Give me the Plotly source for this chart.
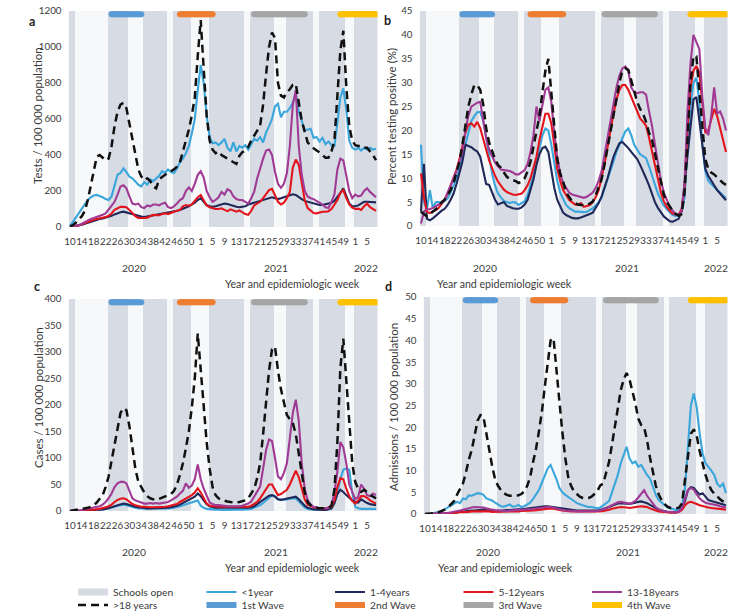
import plotly.graph_objects as go

# ---------------- categories ----------------
weeks_2020 = list(range(10, 54))
weeks_2021 = list(range(1, 53))
weeks_2022 = list(range(1, 9))
week_numbers = weeks_2020 + weeks_2021 + weeks_2022
year_of_week = ["2020"] * len(weeks_2020) + ["2021"] * len(weeks_2021) + ["2022"] * len(weeks_2022)
years = ["2020", "2021", "2022"]

age_groups = ["<1year", "1-4years", "5-12years", "13-18years", ">18 years"]

schools_open = [1, 1, 0, 0, 0, 0, 0, 0, 0, 0, 0, 0, 0, 1, 1, 1, 1, 1, 1, 1, 0, 0, 0, 0, 0,
                1, 1, 1, 1, 1, 1, 1, 1, 0, 0, 1, 1, 1, 1, 1, 1, 0, 0, 0, 0, 0, 0,
                1, 1, 1, 1, 1, 1, 1, 1, 1, 1, 1, 1, 0, 0, 1, 1, 1, 1, 1, 1, 1, 1,
                0, 0, 0, 0, 1, 1, 1, 1, 1, 1, 1, 1, 1, 0, 0, 1, 1, 1, 1, 1, 1, 1, 1, 1,
                0, 0, 0, 1, 1, 1, 1, 1, 1, 1, 1]

wave_names = ["1st Wave", "2nd Wave", "3rd Wave", "4th Wave"]
wave_start = [("2020", 24), ("2020", 47), ("2021", 19), ("2021", 48)]
wave_end = [("2020", 34), ("2021", 5), ("2021", 36), ("2022", 8)]

# ---------------- panel a: tests / 100 000 ----------------
tests_lt1 = [5, 30, 50, 80, 100, 130, 150, 165, 175, 178, 172, 165, 155, 150, 170, 230, 290, 300, 326, 305,
             280, 270, 250, 235, 225, 250, 235, 265, 255, 270, 285, 310, 300, 320, 305, 300, 325, 360, 380, 410,
             450, 520, 600, 760, 900, 800, 620, 500, 465, 470, 455, 470, 490, 440, 420, 470, 420, 450, 440, 455,
             430, 460, 490, 480, 500, 470, 525, 560, 600, 670, 685, 610, 640, 640, 660, 690, 740, 640, 590, 540,
             540, 545, 495, 500, 475, 495, 460, 475, 455, 450, 580, 720, 770, 650, 480, 440, 430, 440, 425, 440,
             430, 440, 430, 435]
tests_1_4 = [0, 2, 4, 8, 12, 18, 24, 30, 35, 40, 44, 48, 52, 56, 62, 70, 78, 82, 85, 80,
             76, 70, 65, 62, 58, 55, 58, 60, 62, 66, 70, 75, 78, 80, 82, 86, 90, 95, 100, 108,
             115, 125, 135, 150, 160, 140, 122, 115, 112, 115, 120, 125, 130, 128, 122, 115, 112, 110, 112, 115,
             125, 130, 135, 140, 145, 150, 158, 162, 165, 160, 155, 160, 165, 168, 175, 182, 178, 165, 155, 145,
             140, 135, 130, 125, 122, 122, 125, 128, 135, 145, 165, 190, 215, 170, 130, 115, 115, 120, 130, 140,
             140, 138, 135, 137]
tests_5_12 = [0, 2, 5, 10, 15, 22, 28, 35, 40, 45, 48, 50, 55, 62, 75, 95, 105, 112, 112, 110,
              95, 75, 60, 50, 48, 50, 52, 60, 68, 66, 65, 72, 76, 72, 80, 85, 90, 95, 115, 122,
              118, 125, 145, 165, 178, 150, 120, 110, 104, 100, 100, 104, 95, 88, 98, 90, 85, 92, 80, 72,
              68, 90, 120, 132, 140, 160, 180, 205, 212, 175, 140, 125, 135, 160, 195, 330, 375, 345, 250, 150,
              105, 90, 78, 76, 82, 85, 85, 88, 100, 125, 150, 190, 205, 160, 125, 108, 100, 102, 95, 115,
              130, 110, 100, 90]
tests_13_18 = [0, 2, 5, 10, 18, 28, 38, 45, 50, 55, 62, 68, 75, 95, 115, 140, 180, 225, 232, 215,
               170, 130, 125, 130, 110, 105, 120, 115, 125, 125, 120, 130, 135, 110, 105, 115, 130, 150, 160, 200,
               220, 200, 240, 290, 310, 275, 200, 165, 140, 150, 165, 195, 180, 210, 200, 170, 155, 150, 150, 140,
               130, 160, 196, 270, 330, 380, 425, 430, 400, 307, 240, 218, 240, 300, 450, 680, 760, 450, 290, 200,
               170, 160, 155, 145, 135, 125, 110, 105, 140, 180, 320, 380, 370, 290, 200, 160, 180, 170, 175, 200,
               215, 195, 180, 165]
tests_gt18 = [5, 10, 25, 40, 60, 90, 150, 230, 320, 390, 400, 385, 370, 380, 450, 560, 640, 680, 690, 660,
              580, 480, 400, 320, 280, 260, 270, 255, 225, 215, 265, 280, 290, 300, 310, 320, 335, 360, 420, 480,
              540, 620, 720, 950, 1150, 880, 620, 480, 430, 410, 420, 400, 390, 380, 370, 360, 350, 395, 415, 425,
              445, 480, 505, 535, 565, 680, 850, 1000, 1080, 1050, 800, 730, 720, 750, 765, 790, 795, 680, 590, 530,
              470, 450, 435, 425, 415, 400, 385, 385, 420, 480, 720, 980, 1090, 780, 560, 480, 455, 450, 450, 440,
              440, 420, 400, 372]

# ---------------- panel b: percent positive ----------------
pos_lt1 = [17, 5, 3.5, 7.5, 3.7, 5, 5, 4.8, 5.2, 5.8, 7, 8.5, 10, 12, 14.5, 17.5, 20, 22, 23, 23.8,
           23.9, 22, 18.5, 14.2, 11, 8.5, 6.8, 6, 5.2, 5, 4.8, 5, 4.9, 4.4, 4.8, 5.2, 6.5, 8.5, 10.5, 13.5,
           16.5, 19, 20.4, 20, 17, 13, 9.5, 7, 5.5, 4.4, 3.8, 3.4, 3, 3, 2.9, 2.9, 3, 3.3, 3.7, 4.3,
           5, 6, 7.8, 9.5, 11.5, 13.5, 15.5, 17, 18.3, 19.8, 20.4, 19, 17, 16, 15, 14.6, 14.2, 12.5, 10.5, 8.5,
           6.8, 5.5, 4.3, 3.5, 2.8, 2.3, 2.1, 2.1, 3, 6, 16, 25, 30, 31, 26, 17, 11.5, 9.5, 8.8, 8.2,
           7.6, 6.8, 6.2, 5.8]
pos_1_4 = [3, 13, 1.5, 1.2, 1.6, 2.2, 2.8, 3.2, 3.6, 4.4, 5.5, 6.8, 8.8, 11, 13.5, 17, 16.8, 16.5, 16, 15.6,
           14.5, 11.5, 8.8, 8.6, 7.2, 5.5, 4.5, 4.8, 5, 4.2, 3.9, 3.7, 3.6, 3.6, 3.9, 4.5, 5.5, 7.5, 9.8, 12.8,
           15, 16.3, 16.6, 15.5, 12, 8, 5.5, 4, 2.8, 2.3, 2, 1.7, 1.6, 1.6, 1.8, 2, 2.2, 2.5, 2.8, 3.8,
           4.8, 6.2, 8, 10, 12.3, 14.5, 16, 17.3, 17.6, 17, 16.3, 15.5, 14.8, 14, 12.8, 11.5, 10, 8.5, 6.8, 5,
           3.8, 2.8, 2, 1.5, 1, 0.9, 1.2, 1.5, 3, 9, 16, 22, 26.5, 27, 22, 16, 12, 10.5, 9.5, 8.5,
           7.5, 6.8, 6, 5.4]
pos_5_12 = [11, 6, 3, 2.7, 3, 3.3, 3.8, 4.6, 5.5, 6.8, 8.5, 10, 11.8, 14, 16.8, 19.5, 21.2, 21.5, 20.8, 21.8,
            20.5, 18.5, 16, 13.8, 12, 10.5, 9.3, 8.5, 7.6, 7.1, 6.8, 6.6, 6.5, 6.6, 6.8, 7.5, 8.5, 10, 12, 14.5,
            18, 21, 23.5, 23.5, 21.5, 17, 12, 9.5, 7.5, 6.5, 5.5, 5, 4.5, 4.4, 4.8, 4, 4.2, 4.4, 5, 6,
            7.5, 10, 13, 16.5, 20.5, 23.5, 26.5, 28.5, 29.5, 29.5, 28.5, 27, 25.5, 24, 22.5, 21.8, 21, 18.5, 15.5, 12.5,
            9.5, 7, 5.2, 4, 3.2, 2.6, 2.4, 2.4, 3.5, 8, 20, 29, 32.5, 33.5, 32, 25, 19.5, 20, 22, 24.5,
            23, 20.5, 18, 15.5]
pos_13_18 = [0.5, 3, 3.5, 3.5, 3.8, 4.2, 4.5, 4.8, 5.5, 7, 8.5, 10, 11.5, 13.5, 15.5, 20, 23, 25, 25.5, 25.8,
             26, 22, 18.5, 16, 14.5, 13.3, 12.5, 11.8, 11.7, 11.6, 11.5, 11.2, 10.8, 10.8, 11.2, 11.7, 13, 15.5, 19, 25,
             22, 25.3, 28.5, 29, 26, 19.5, 14.5, 11, 9, 8, 7, 6.6, 6.4, 6.2, 6, 5.9, 6.1, 6.5, 7, 8,
             9.5, 11.5, 15, 18, 21.5, 25, 29, 31.5, 33, 33.4, 32.5, 29, 28, 27.8, 28, 28, 27.5, 24, 21, 17,
             13.5, 9.5, 7, 5.5, 4, 3.2, 2.5, 2.3, 3, 9, 24, 34, 40, 38.5, 37, 27, 20.5, 19, 23, 29,
             23.5, 24, 22.5, 20]
pos_gt18 = [3, 2.5, 2, 2.5, 3, 3.5, 4, 5, 5.5, 6.5, 7.5, 9, 11, 13.5, 17, 21, 25, 27.5, 29.5, 29.5,
            28.5, 25.5, 20.5, 17.5, 15.5, 14, 12.8, 12.2, 11.2, 10.3, 9.8, 9.6, 9.4, 9, 9.3, 10, 11.5, 13.5, 16.5, 20,
            23, 28, 32.5, 35, 28, 20.5, 14, 11, 9.3, 7, 6.2, 5.2, 4.8, 4.5, 4.4, 4.4, 4.4, 4.7, 5.1, 6.5,
            8, 9.8, 13, 16.5, 20.5, 23.2, 26.5, 30, 32.5, 33, 32.7, 30.3, 28, 26, 24.5, 23.5, 21.8, 19.5, 18, 15,
            12.5, 8.8, 6.5, 5, 4, 3.2, 2.5, 2.2, 2.5, 7, 18, 30, 35.5, 35.5, 28, 20, 14, 12, 11.2, 10.8,
            10.2, 9.5, 9, 8.6]

# ---------------- panel c: cases / 100 000 ----------------
cases_lt1 = [0, 0, 0, 0, 0, 1, 1, 1, 1, 2, 2, 3, 4, 5, 6, 8, 10, 11, 12, 11,
             9, 7, 6, 5, 5, 4, 4, 4, 4, 4, 4, 4, 4, 4, 5, 6, 7, 9, 11, 13,
             15, 17, 19, 20, 10, 6, 4, 3, 3, 3, 2, 2, 2, 2, 2, 2, 2, 2, 2, 3,
             3, 4, 6, 8, 11, 15, 20, 26, 30, 28, 22, 21, 21, 22, 23, 24, 24, 18, 12, 7,
             4, 3, 2, 2, 2, 2, 2, 3, 5, 15, 35, 60, 78, 80, 78, 35, 8, 5, 4, 4,
             4, 4, 4, 4]
cases_1_4 = [0, 0, 0, 0, 1, 1, 1, 1, 2, 2, 3, 3, 4, 5, 7, 9, 11, 13, 14, 13,
             11, 9, 8, 7, 6, 6, 5, 5, 5, 5, 5, 5, 6, 6, 7, 8, 10, 12, 15, 18,
             21, 24, 27, 33, 28, 20, 13, 9, 7, 6, 6, 6, 5, 5, 5, 5, 5, 5, 5, 5,
             6, 7, 9, 13, 17, 22, 26, 29, 30, 27, 22, 21, 22, 23, 25, 26, 27, 22, 15, 10,
             6, 4, 3, 3, 2, 2, 2, 3, 5, 15, 32, 40, 36, 30, 24, 20, 17, 16, 22, 18,
             15, 13, 12, 11]
cases_5_12 = [0, 0, 0, 1, 1, 1, 2, 2, 3, 3, 4, 5, 7, 9, 12, 17, 21, 23, 24, 22,
              18, 13, 11, 9, 8, 8, 7, 7, 7, 7, 7, 8, 8, 9, 10, 11, 13, 17, 20, 24,
              27, 30, 35, 43, 35, 24, 14, 10, 9, 8, 8, 8, 8, 7, 7, 7, 7, 7, 7, 8,
              8, 10, 13, 17, 24, 33, 42, 50, 50, 40, 30, 32, 36, 40, 50, 62, 76, 64, 40, 22,
              12, 9, 7, 6, 5, 5, 5, 6, 8, 20, 45, 62, 60, 42, 28, 19, 14, 20, 28, 28,
              25, 20, 17, 14]
cases_13_18 = [0, 0, 1, 1, 2, 3, 4, 5, 6, 7, 9, 12, 17, 24, 33, 45, 52, 55, 55, 52,
               38, 24, 20, 18, 16, 14, 14, 15, 14, 15, 14, 15, 16, 17, 20, 24, 27, 33, 38, 52,
               44, 48, 60, 88, 60, 42, 27, 16, 13, 11, 11, 11, 10, 9, 9, 8, 8, 9, 10, 12,
               14, 18, 27, 36, 46, 80, 115, 135, 132, 100, 65, 60, 72, 90, 140, 185, 210, 170, 90, 42,
               20, 12, 8, 6, 5, 5, 5, 6, 10, 35, 75, 130, 120, 90, 50, 35, 22, 27, 50, 42,
               30, 28, 33, 30]
cases_gt18 = [0, 1, 1, 2, 3, 4, 6, 8, 11, 16, 22, 30, 45, 65, 95, 125, 155, 185, 194, 190,
              160, 115, 80, 55, 44, 35, 28, 24, 22, 21, 23, 25, 27, 29, 32, 38, 50, 68, 90, 118,
              150, 195, 250, 335, 270, 190, 130, 80, 45, 30, 24, 21, 19, 18, 17, 16, 16, 17, 18, 20,
              24, 32, 42, 62, 90, 145, 210, 265, 305, 310, 265, 230, 205, 181, 173, 166, 145, 105, 65, 35,
              17, 11, 8, 6, 5, 5, 5, 6, 10, 40, 130, 270, 325, 240, 160, 90, 55, 42, 36, 40,
              36, 30, 27, 24]

# ---------------- panel d: admissions / 100 000 ----------------
adm_lt1 = [0, 0, 0.1, 0.2, 0.3, 0.5, 0.8, 1.2, 1.5, 1.8, 2.2, 2.8, 2.5, 3.6, 3.4, 4.3, 4.2, 4.6, 4.8, 4.7,
           4.4, 3.6, 3.3, 3.1, 2.6, 2.1, 1.8, 1.7, 1.9, 2.2, 1.7, 1.8, 2.1, 1.6, 1.8, 2.3, 2.6, 3.5, 4.5, 5.5,
           7.2, 8.8, 10.5, 11.3, 9.8, 8, 6, 5, 4.4, 4, 3.6, 3, 2.5, 2.2, 2, 1.8, 1.6, 1.6, 1.4, 1.3,
           1.5, 2, 2.5, 3, 5, 7, 9, 11.7, 13.5, 15.5, 12.8, 11.7, 12.1, 10.9, 11.3, 10, 9, 8.2, 6.3, 4.4,
           3.2, 2.6, 1.9, 1.5, 1.3, 1.1, 0.9, 1, 2, 6, 16, 25, 27.8, 24.5, 18.6, 14, 11.7, 10.9, 10, 9,
           7, 6.3, 7, 4.8]
adm_1_4 = [0, 0, 0, 0, 0, 0.1, 0.1, 0.2, 0.2, 0.3, 0.3, 0.4, 0.5, 0.5, 0.6, 0.7, 0.8, 0.8, 0.9, 0.9,
           1, 0.9, 0.8, 0.8, 0.7, 0.7, 0.8, 0.8, 0.9, 0.9, 1, 1, 1.1, 1.1, 1.2, 1.2, 1.3, 1.4, 1.5, 1.6,
           1.7, 1.8, 1.8, 1.7, 1.6, 1.5, 1.4, 1.2, 1.1, 1, 0.9, 0.9, 0.8, 0.8, 0.8, 0.7, 0.7, 0.7, 0.7, 0.8,
           0.9, 1.1, 1.3, 1.6, 1.9, 2.2, 2.4, 2.5, 2.5, 2.4, 2.3, 2.4, 2.6, 2.8, 2.9, 2.7, 2.5, 2.1, 1.7, 1.3,
           1, 0.8, 0.6, 0.5, 0.4, 0.4, 0.4, 0.6, 1.2, 3, 5.5, 6.2, 6, 5.2, 4.5, 4.8, 4, 3.2, 3, 2.8,
           2.6, 2.3, 2.1, 2]
adm_5_12 = [0, 0, 0, 0, 0, 0.1, 0.1, 0.1, 0.2, 0.2, 0.3, 0.3, 0.4, 0.4, 0.5, 0.5, 0.6, 0.6, 0.7, 0.7,
            0.7, 0.6, 0.6, 0.5, 0.5, 0.5, 0.5, 0.5, 0.5, 0.5, 0.6, 0.6, 0.6, 0.7, 0.7, 0.7, 0.8, 0.8, 0.9, 1,
            1.1, 1.2, 1.3, 1.3, 1.2, 1, 0.9, 0.8, 0.7, 0.7, 0.6, 0.6, 0.6, 0.5, 0.5, 0.5, 0.5, 0.5, 0.5, 0.5,
            0.6, 0.7, 0.8, 1, 1.2, 1.4, 1.5, 1.6, 1.6, 1.5, 1.4, 1.5, 1.6, 1.7, 1.8, 1.7, 1.6, 1.3, 1, 0.8,
            0.6, 0.5, 0.4, 0.4, 0.3, 0.3, 0.3, 0.5, 1, 2, 2.6, 2.8, 2.6, 2.3, 2, 1.8, 1.6, 1.5, 1.4, 1.3,
            1.2, 1.1, 1, 1]
adm_13_18 = [0, 0, 0, 0, 0.1, 0.1, 0.2, 0.2, 0.3, 0.4, 0.5, 0.6, 0.8, 1, 1.2, 1.4, 1.5, 1.6, 1.6, 1.5,
             1.5, 1.3, 1.1, 1, 0.9, 0.8, 0.8, 0.7, 0.7, 0.8, 0.8, 0.9, 0.9, 1, 1, 1.1, 1.1, 1.2, 1.3, 1.4,
             1.5, 1.5, 1.6, 1.6, 1.4, 1.2, 1, 0.9, 0.8, 0.8, 0.7, 0.7, 0.6, 0.6, 0.6, 0.6, 0.6, 0.6, 0.6, 0.7,
             0.8, 1, 1.3, 1.7, 2.1, 2.5, 2.7, 2.8, 2.7, 2.5, 2.4, 2.6, 3, 3.8, 4.8, 5.5, 4.2, 3.2, 2.2, 1.5,
             1.1, 0.8, 0.6, 0.5, 0.4, 0.4, 0.4, 0.6, 1.5, 3.5, 5.5, 6, 5.6, 4.5, 3.6, 3, 2.6, 2.4, 2.3, 2.2,
             2, 1.8, 1.6, 1.5]
adm_gt18 = [0, 0, 0.1, 0.2, 0.3, 0.5, 0.8, 1.1, 1.6, 2.4, 3, 4.5, 5.8, 7, 9.5, 12.5, 14.7, 18.5, 21.5, 22.8,
            22.5, 18.6, 14.5, 11, 8, 6.5, 5.5, 4.8, 4.4, 4.2, 4.2, 4.2, 4.3, 4.6, 5.2, 6.5, 8.5, 12, 15, 19,
            23.5, 29.3, 35, 40, 40.5, 34, 26, 19, 13, 8.6, 6.5, 5.2, 4.5, 4, 3.7, 3.6, 3.7, 4, 4.6, 5.3,
            6.6, 7, 9.5, 12, 16, 20, 24.5, 28.5, 31, 32.5, 31, 28.5, 25.5, 22, 20.5, 20, 17, 13, 9.8, 6.5,
            4.5, 3.2, 2.3, 1.7, 1.4, 1.3, 1.3, 1.5, 2.5, 8, 14, 18.5, 19.5, 18, 14.5, 11.5, 9, 7, 5.5, 4.7,
            4, 3.4, 2.9, 2.5]

# ---------------- styling ----------------
W, H = 731, 613
FONT = "Lato"
TXT = "#3b3b3b"
AGE_COLORS = ["#3aa6dc", "#1f2858", "#e3141c", "#a03a94", "#111111"]
WAVE_COLORS = ["#5b9bd5", "#ed7d31", "#a5a5a5", "#ffc000"]
BAND = "#d6dbe4"
PLOT_BG = "#f7f8fa"

x_idx = list(range(len(week_numbers)))


def wk_index(year, week):
    for i, (y, w) in enumerate(zip(year_of_week, week_numbers)):
        if y == year and w == week:
            return i
    return None


panels = [
    dict(letter="a", n="", ymax=1200, dtick=200, title="Tests / 100 000 population",
         series=[tests_lt1, tests_1_4, tests_5_12, tests_13_18, tests_gt18],
         px_x=(68.5, 377.5), px_y=(11, 227), letter_xy=(32, 21), ytitle_xy=(37, 116),
         year_y=268, xtitle_y=284),
    dict(letter="b", n="2", ymax=45, dtick=5, title="Percent testing positive (%)",
         series=[pos_lt1, pos_1_4, pos_5_12, pos_13_18, pos_gt18],
         px_x=(419.5, 727.5), px_y=(11, 226), letter_xy=(387, 20), ytitle_xy=(391, 116),
         year_y=268, xtitle_y=284),
    dict(letter="c", n="3", ymax=400, dtick=50, title="Cases / 100 000 population",
         series=[cases_lt1, cases_1_4, cases_5_12, cases_13_18, cases_gt18],
         px_x=(68.5, 377.5), px_y=(299, 511), letter_xy=(37, 287), ytitle_xy=(38, 398),
         year_y=552, xtitle_y=568),
    dict(letter="d", n="4", ymax=50, dtick=5, title="Admissions / 100 000 population",
         series=[adm_lt1, adm_1_4, adm_5_12, adm_13_18, adm_gt18],
         px_x=(423.5, 727.4), px_y=(297, 514), letter_xy=(388, 287), ytitle_xy=(393, 407),
         year_y=552, xtitle_y=568),
]

fig = go.Figure()
annotations = []
school_x = [i for i, v in enumerate(schools_open) if v]

for p_i, p in enumerate(panels):
    xa, ya = "x" + p["n"], "y" + p["n"]
    first = p_i == 0
    # schools open bands
    fig.add_trace(go.Bar(x=school_x, y=[p["ymax"]] * len(school_x), width=1, xaxis=xa, yaxis=ya,
                         marker=dict(color=BAND, line=dict(width=0)), showlegend=False,
                         hoverinfo="skip", name="Schools open"))
    # age-group lines
    for g_i, (name, vals) in enumerate(zip(age_groups, p["series"])):
        dashed = name == ">18 years"
        fig.add_trace(go.Scatter(
            x=x_idx, y=vals, mode="lines", name=name, xaxis=xa, yaxis=ya,
            line=dict(color=AGE_COLORS[g_i], width=2.5 if dashed else 2.1,
                      dash="8px,5px" if dashed else "solid"),
            showlegend=first, legend="legend2" if dashed else "legend"))
    # waves (thick bars with rounded ends)
    for w_i, name in enumerate(wave_names):
        s = wk_index(*wave_start[w_i])
        e = wk_index(*wave_end[w_i])
        xs = list(range(s, e + 1))
        fig.add_trace(go.Scatter(
            x=xs, y=[p["ymax"] * 0.985] * len(xs), mode="lines+markers", name=name, xaxis=xa, yaxis=ya,
            line=dict(color=WAVE_COLORS[w_i], width=6),
            marker=dict(color=WAVE_COLORS[w_i], size=6, line=dict(width=0)),
            showlegend=first, legend="legend2", hoverinfo="skip"))

    dom_x = [p["px_x"][0] / W, p["px_x"][1] / W]
    dom_y = [1 - p["px_y"][1] / H, 1 - p["px_y"][0] / H]
    tickvals = x_idx[::4]
    ticktext = [str(week_numbers[i]) for i in tickvals]
    fig.update_layout(**{
        "xaxis" + p["n"]: dict(domain=dom_x, anchor=ya, range=[-0.5, len(x_idx) - 0.5],
                               tickvals=tickvals, ticktext=ticktext, tickangle=0,
                               showgrid=False, zeroline=False, showline=False, ticks="",
                               tickfont=dict(family=FONT, size=9.8, color=TXT),
                               ticklabelstandoff=7),
        "yaxis" + p["n"]: dict(domain=dom_y, anchor=xa, range=[0, p["ymax"]], dtick=p["dtick"],
                               showgrid=False, zeroline=False, showline=False, ticks="",
                               tickfont=dict(family=FONT, size=9.8, color=TXT),
                               ticklabelstandoff=6),
    })
    # year labels
    for yr in years:
        idxs = [i for i, y in enumerate(year_of_week) if y == yr]
        annotations.append(dict(x=sum(idxs) / len(idxs), xref=xa, y=1 - p["year_y"] / H, yref="paper",
                                text=yr, showarrow=False, yanchor="middle",
                                font=dict(family=FONT, size=10.3, color=TXT)))
    annotations.append(dict(x=(dom_x[0] + dom_x[1]) / 2, xref="paper", y=1 - p["xtitle_y"] / H,
                            yref="paper", text="Year and epidemiologic week", showarrow=False,
                            yanchor="middle", font=dict(family=FONT, size=10.6, color=TXT)))
    annotations.append(dict(x=p["ytitle_xy"][0] / W, y=1 - p["ytitle_xy"][1] / H, xref="paper",
                            yref="paper", text=p["title"], textangle=-90, showarrow=False,
                            xanchor="center", yanchor="middle",
                            font=dict(family=FONT, size=11.5, color=TXT)))
    annotations.append(dict(x=p["letter_xy"][0] / W, y=1 - p["letter_xy"][1] / H, xref="paper",
                            yref="paper", text="<b>" + p["letter"] + "</b>", showarrow=False,
                            xanchor="center", yanchor="middle",
                            font=dict(family=FONT, size=12.5, color="#222222")))

# legend-only swatch for school bands
fig.add_trace(go.Scatter(x=[None], y=[None], mode="lines", name="Schools open",
                         line=dict(color=BAND, width=7), legend="legend", legendrank=1))

legend_common = dict(orientation="h", xanchor="left", yanchor="middle", entrywidth=83.5,
                     entrywidthmode="pixels", bgcolor="rgba(0,0,0,0)",
                     font=dict(family=FONT, size=10.3, color=TXT), traceorder="normal")
fig.update_layout(
    width=W, height=H, margin=dict(l=0, r=0, t=0, b=0, autoexpand=False),
    paper_bgcolor="#ffffff", plot_bgcolor=PLOT_BG,
    bargap=0, barmode="overlay",
    annotations=annotations,
    legend=dict(x=73 / W, y=1 - 592 / H, **legend_common),
    legend2=dict(x=73 / W, y=1 - 605 / H, **legend_common),
)

fig.write_html("out.html", config={"displayModeBar": False},
               post_script="document.body.style.margin='0px';document.body.style.overflow='hidden';")
